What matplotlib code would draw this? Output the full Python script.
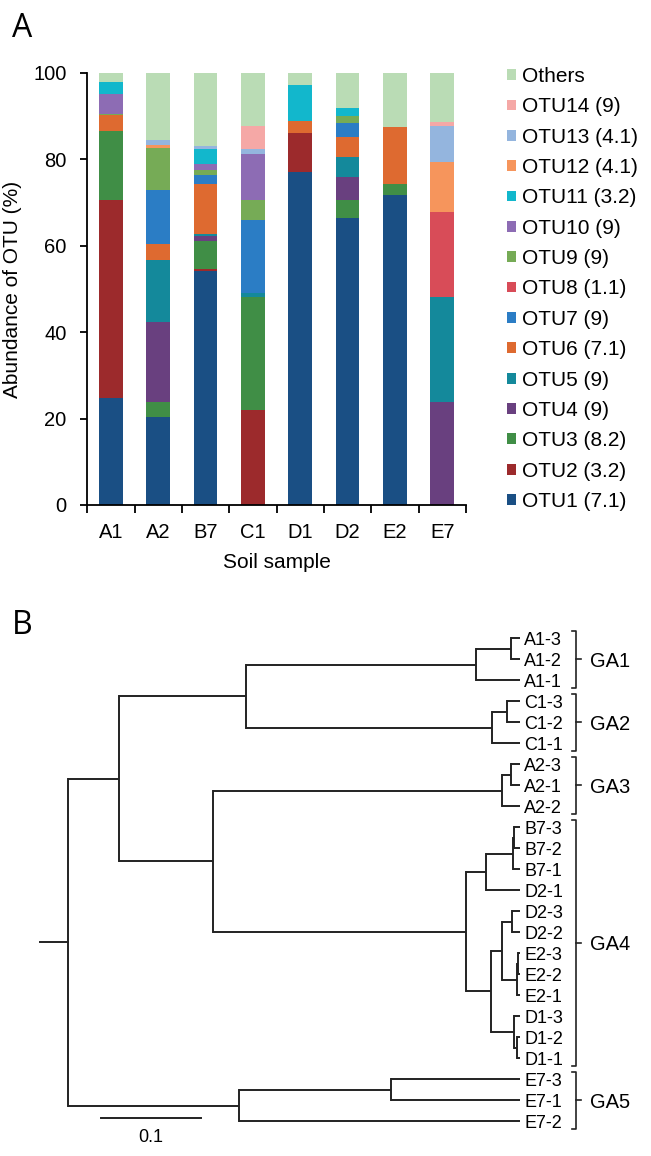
import matplotlib

matplotlib.use("Agg")
import matplotlib.pyplot as plt
import numpy as np
from matplotlib.patches import Patch

plt.rcParams["font.family"] = ["Liberation Sans", "DejaVu Sans"]

# ---- panel A: stacked OTU abundance per soil sample ----
samples = ["A1", "A2", "B7", "C1", "D1", "D2", "E2", "E7"]

otu1 = [24.7, 20.3, 54.2, 0.0, 77.0, 66.5, 71.8, 0.0]
otu2 = [45.9, 0.0, 0.4, 22.0, 9.0, 0.0, 0.0, 0.0]
otu3 = [16.0, 3.5, 6.4, 26.1, 0.0, 4.1, 2.5, 0.0]
otu4 = [0.0, 18.5, 1.3, 0.0, 0.0, 5.3, 0.0, 23.8]
otu5 = [0.0, 14.4, 0.4, 0.9, 0.0, 4.6, 0.0, 24.3]
otu6 = [3.7, 3.8, 11.6, 0.0, 2.9, 4.6, 13.1, 0.0]
otu7 = [0.0, 12.4, 2.1, 17.0, 0.0, 3.3, 0.0, 0.0]
otu8 = [0.0, 0.0, 0.0, 0.0, 0.0, 0.0, 0.0, 19.8]
otu9 = [0.3, 9.7, 1.1, 4.6, 0.0, 1.6, 0.0, 0.0]
otu10 = [4.5, 0.0, 1.4, 10.7, 0.0, 0.0, 0.0, 0.0]
otu11 = [2.8, 0.0, 3.6, 0.0, 8.3, 1.8, 0.0, 0.0]
otu12 = [0.0, 0.7, 0.0, 0.0, 0.0, 0.0, 0.0, 11.6]
otu13 = [0.0, 1.2, 0.6, 1.0, 0.0, 0.0, 0.0, 8.3]
otu14 = [0.0, 0.0, 0.0, 5.5, 0.0, 0.0, 0.0, 0.9]
others = [2.1, 15.5, 16.9, 12.2, 2.8, 8.2, 12.6, 11.3]

series = [otu1, otu2, otu3, otu4, otu5, otu6, otu7, otu8,
          otu9, otu10, otu11, otu12, otu13, otu14, others]
series_labels = ["OTU1 (7.1)", "OTU2 (3.2)", "OTU3 (8.2)", "OTU4 (9)",
                 "OTU5 (9)", "OTU6 (7.1)", "OTU7 (9)", "OTU8 (1.1)",
                 "OTU9 (9)", "OTU10 (9)", "OTU11 (3.2)", "OTU12 (4.1)",
                 "OTU13 (4.1)", "OTU14 (9)", "Others"]
colors = ["#1a4f84", "#9c2a2c", "#408e46", "#69407f", "#14899b",
          "#de6a30", "#2b7dc5", "#d84c58", "#76ab56", "#8d6cb4",
          "#12b7cc", "#f6955c", "#94b5de", "#f5a8a6", "#badcb5"]

# ---- panel B: UPGMA-style tree, (depth, children) with leaf tips at 0.452 ----
tip_depth = 0.452
tree = (0.0, [
    (0.051, [
        (0.178, [
            (0.408, [(0.443, ["A1-3", "A1-2"]), "A1-1"]),
            (0.424, [(0.439, ["C1-3", "C1-2"]), "C1-1"]),
        ]),
        (0.145, [
            (0.434, [(0.443, ["A2-3", "A2-1"]), "A2-2"]),
            (0.398, [
                (0.418, [(0.4445, [(0.4462, ["B7-3", "B7-2"]), "B7-1"]), "D2-1"]),
                (0.423, [
                    (0.434, [(0.444, ["D2-3", "D2-2"]),
                             (0.449, [(0.450, ["E2-3", "E2-2"]), "E2-1"])]),
                    (0.446, ["D1-3", (0.449, ["D1-2", "D1-1"])]),
                ]),
            ]),
        ]),
    ]),
    (0.171, [(0.323, ["E7-3", "E7-1"]), "E7-2"]),
])
groups = ["GA1", "GA2", "GA3", "GA4", "GA5"]
group_spans = [(0, 2), (3, 5), (6, 8), (9, 20), (21, 23)]
scale_bar = 0.1

W, H = 651, 1156
fig = plt.figure(figsize=(W / 100, H / 100), dpi=100)

# ---------------- panel A ----------------
ax = fig.add_axes([87.3 / W, 1 - 505 / H, 378.7 / W, 432 / H])
x = np.arange(len(samples))
bottom = np.zeros(len(samples))
handles = []
for vals, lab, col in zip(series, series_labels, colors):
    ax.bar(x, vals, width=0.5, bottom=bottom, color=col, linewidth=0)
    bottom += np.array(vals)
    handles.append(Patch(facecolor=col, label=lab))

ax.set_xlim(-0.5, len(samples) - 0.5)
ax.set_ylim(0, 100)
ax.set_yticks([0, 20, 40, 60, 80, 100])
ax.set_xticks(x)
ax.set_xticklabels(samples)
ax.set_xticks(np.arange(len(samples) + 1) - 0.5, minor=True)
ax.tick_params(axis="x", which="major", length=0, pad=13, labelsize=14.5)
ax.tick_params(axis="x", which="minor", length=6, width=1.3, direction="out")
ax.tick_params(axis="y", length=5, width=1.3, pad=10, labelsize=14.5)
for s in ["top", "right"]:
    ax.spines[s].set_visible(False)
for s in ["left", "bottom"]:
    ax.spines[s].set_linewidth(1.3)
ax.set_xlabel("Soil sample", fontsize=15, labelpad=8)
ax.set_ylabel("Abundance of OTU (%)", fontsize=15, labelpad=8)

ax.legend(handles[::-1], [h.get_label() for h in handles[::-1]],
          loc="upper left", bbox_to_anchor=(507 / W, 1 - 67 / H),
          bbox_transform=fig.transFigure, frameon=False, fontsize=15,
          borderpad=0, borderaxespad=0, labelspacing=0.545,
          handlelength=0.42, handleheight=0.42, handletextpad=0.3)

fig.text(12 / W, 1 - 37 / H, "A", fontsize=23, family=["Open Sans", "DejaVu Sans"],
         va="baseline")
fig.text(12 / W, 1 - 634 / H, "B", fontsize=23, family=["Open Sans", "DejaVu Sans"],
         va="baseline")

# ---------------- panel B ----------------
tx = fig.add_axes([0, 0, 1, 556 / H])
px = 0.001  # tree units per pixel
root_px = 68.3
y0_px, step_px = 638.3, 21.0
tx.set_xlim(-root_px * px, (W - root_px) * px)
tx.set_ylim((H - y0_px) / step_px, (600 - y0_px) / step_px)
tx.axis("off")

leaf_order = []
lw = 1.4


def draw(node):
    """Draw the subtree and return (depth, y) of its top."""
    if isinstance(node, str):
        y = len(leaf_order)
        leaf_order.append(node)
        return tip_depth, y
    depth, children = node
    pts = [draw(c) for c in children]
    ys = [p[1] for p in pts]
    tx.plot([depth, depth], [min(ys), max(ys)], color="#222222", lw=lw,
            solid_capstyle="projecting")
    for d, y in pts:
        tx.plot([depth, d], [y, y], color="#222222", lw=lw,
                solid_capstyle="butt")
    return depth, (min(ys) + max(ys)) / 2


_, root_y = draw(tree)
tx.plot([-(root_px - 40) * px, 0], [root_y, root_y], color="#222222", lw=lw)

for i, name in enumerate(leaf_order):
    tx.text(tip_depth + 4 * px, i + 0.1, name, fontsize=13, va="center", ha="left")

bx = (576 - root_px) * px
for g, (a, b) in zip(groups, group_spans):
    top, bot = a - 0.36, b + 0.36
    mid = (a + b) / 2
    tx.plot([bx - 4 * px, bx, bx, bx - 4 * px], [top, top, bot, bot],
            color="#222222", lw=1.2)
    tx.plot([bx, bx + 5 * px], [mid, mid], color="#222222", lw=1.2)
    tx.text(bx + 14 * px, mid + 0.1, g, fontsize=14.5, va="center", ha="left")

sb_x0 = (101 - root_px) * px
sb_y = 22.85
tx.plot([sb_x0, sb_x0 + scale_bar], [sb_y, sb_y], color="#222222", lw=lw)
tx.text(sb_x0 + scale_bar / 2, sb_y + 0.9, f"{scale_bar:g}", fontsize=13,
        ha="center", va="center")

fig.savefig("out.png", dpi=100)
